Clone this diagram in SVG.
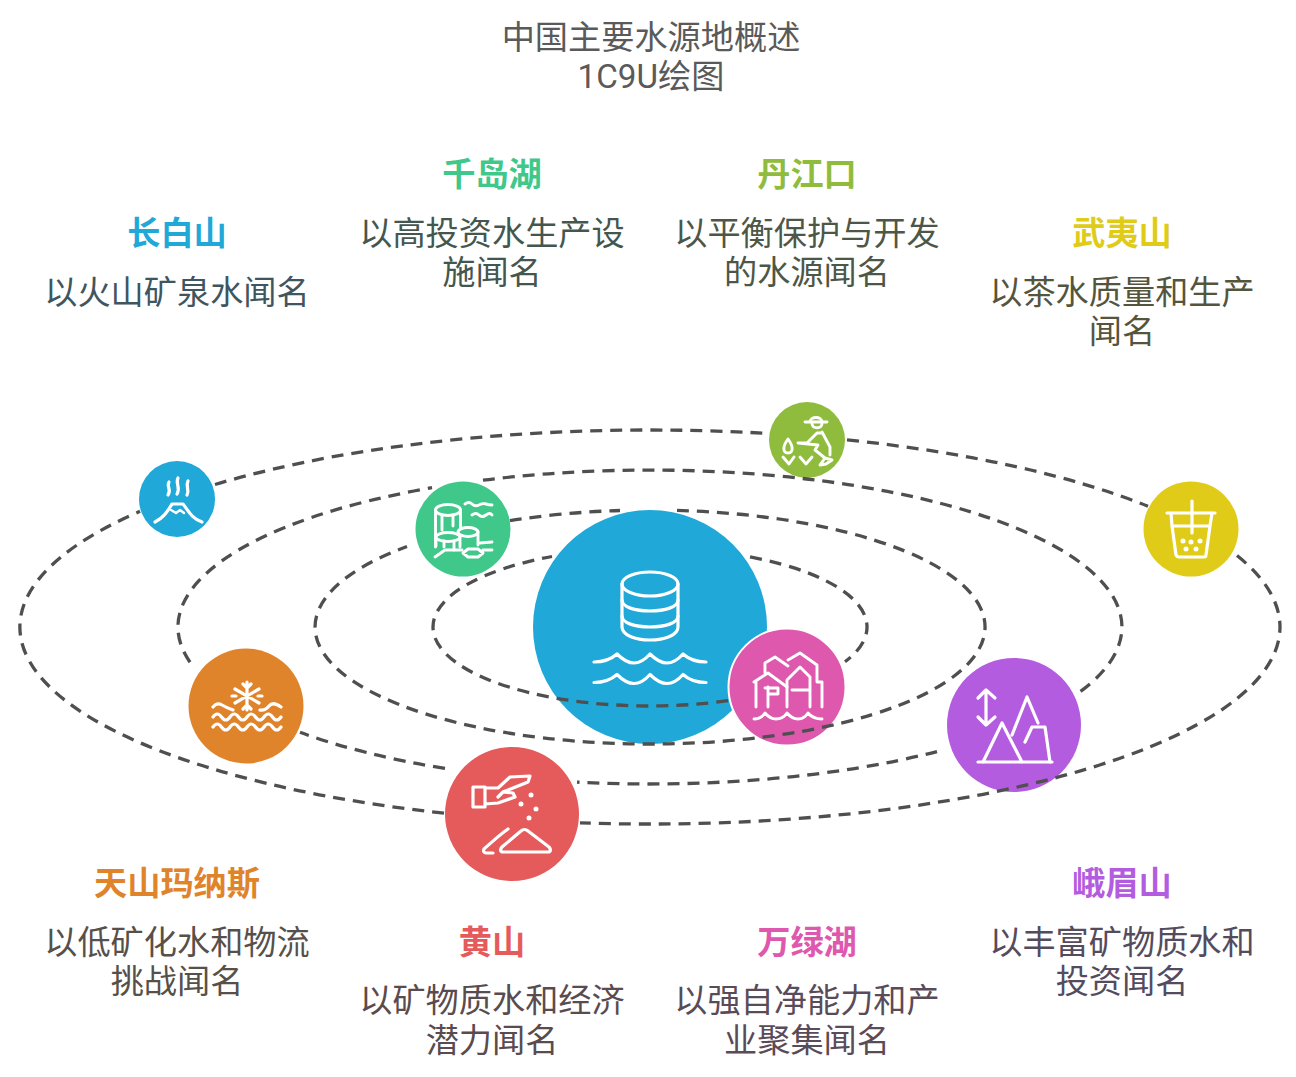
<svg xmlns="http://www.w3.org/2000/svg" width="1296" height="1077" viewBox="0 0 1296 1077">
<style>
text{font-family:"Roboto","Noto Sans CJK SC",sans-serif;font-size:33.2px;text-anchor:middle}
.h{font-weight:700}
.disc{stroke:#fff;stroke-width:2}
.ic{fill:none;stroke:#fff;stroke-width:3.2;stroke-linecap:round;stroke-linejoin:round}
.ict{fill:none;stroke:#fff;stroke-width:2.9;stroke-linecap:round;stroke-linejoin:round}
.dot{fill:#fff}
.orbit{fill:none;stroke:#4f4f4f;stroke-width:3.3;stroke-dasharray:12 8}
</style>
<rect width="1296" height="1077" fill="#fff"/>
<g id="title" fill="#5a5a5a"><text x="651" y="49">中国主要水源地概述</text><text x="651" y="88">1C9U绘图</text></g>

<g id="center"><circle cx="650" cy="627" r="117" fill="#1fa8d8"/>
<g class="ic"><ellipse cx="650" cy="584" rx="28" ry="12"/><path d="M622 584V627C622 635 635 640 650 640S678 635 678 627V584"/><path d="M622 600C622 607 635 611 650 611S678 607 678 600"/><path d="M622 616C622 623 635 627 650 627S678 623 678 616"/>
<path d="M594 662Q608 662 617 654Q626 663 634 663Q642 663 650 654Q659 663 667 663Q675 663 683 654Q692 662 706 662"/>
<path d="M594 682.500Q608 682.500 617 674.500Q626 683.500 634 683.500Q642 683.500 650 674.500Q659 683.500 667 683.500Q675 683.500 683 674.500Q692 682.500 706 682.500"/></g></g>

<g id="wanlvhu"><circle cx="787" cy="687" r="58.500" fill="#de58ae" class="disc"/>
<g class="ict"><path d="M754 682L768 673L787 687M756 682V707M768 687V707M765 688H778V694H768"/><path d="M765 673V663L775 657L788 666"/><path d="M788 660L800 653L817 665V682H822V707"/><path d="M787 707V680L800 667L810 677V707M792 690H810"/><path d="M754 719Q761 719 765 713Q770 719 776 719Q783 719 787 713Q792 719 798 719Q804 719 808 713Q813 719 822 719"/></g></g>

<g id="changbaishan"><circle cx="177" cy="499" r="38" fill="#1fa8d8"/>
<g class="ic"><path d="M169 482C166 487 172 489 168 495M178 478C175 484 181 487 177 494M188 481C185 487 190 489 187 495"/><path d="M155 522C165 517 168 510 172 504H183C188 510 191 518 202 522"/><path d="M171 510L176 513L180 510L184 513" stroke-width="2.500"/></g></g>

<g id="qiandaohu"><circle cx="463" cy="529" r="47.500" fill="#3fc88a"/>
<g class="ict"><ellipse cx="448" cy="510" rx="12.500" ry="5.500"/><path d="M435.500 510V547M460.500 510V528M442 515V530M453 515V526"/><ellipse cx="448" cy="537" rx="12" ry="4.500"/><ellipse cx="468" cy="532" rx="10" ry="4.500"/><path d="M436 540V546M444 541V547M454 541V550M460 537V547M478 532V545"/><path d="M435 557L445 550H462"/><path d="M463 553L468 549H478L483 553L478 557H468ZM483 550H492M480 543L492 542"/><path d="M465 504Q469 501 472 504T479 505T486 504T492 505M472 515Q476 512 479 515T486 515T492 515"/></g></g>

<g id="danjiangkou"><circle cx="807" cy="440" r="38" fill="#8fbc3c"/>
<g class="ict"><path d="M805 422H827M810 422C810 416 822 416 822 422M812 424C813 429 821 429 822 424"/><path d="M822 432L830 447V455M798 443H807L817 433H822M798 443L818 445L815 450L825 458M820 465L825 458L832 460L826 464Z"/><path d="M788 439C782 447 783 453 788 453S794 447 788 439ZM783 457L789 464L794 457M800 457L806 464L812 457"/></g></g>

<g id="wuyishan"><circle cx="1191" cy="529" r="47.500" fill="#e0cc18"/>
<g class="ic"><path d="M1167 513H1215M1171 513L1172 526H1210L1212 513M1172 526L1176 555Q1177 557 1179 557H1204Q1206 557 1206 555L1210 526M1192 501V533"/></g>
<g class="dot"><circle cx="1183" cy="541" r="2.500"/><circle cx="1191" cy="542" r="2.500"/><circle cx="1200" cy="541" r="2.500"/><circle cx="1186" cy="549" r="2.500"/><circle cx="1196" cy="549" r="2.500"/></g></g>

<g id="tianshan"><circle cx="246" cy="706" r="57.500" fill="#e0842c"/>
<g class="ic"><path d="M247 682V710M235 689L259 703M259 689L235 703M243 684L247 688L251 684M243 709L247 705L251 709M232 696H236M262 696H258"/>
<path d="M213 707Q217 702 222 705T233 710M260 710Q265 711 269 706T281 707"/>
<path d="M213 717q4.250-6 8.500 0t8.500 0t8.500 0t8.500 0t8.500 0t8.500 0t8.500 0t8.500 0"/>
<path d="M213 727q4.250-6 8.500 0t8.500 0t8.500 0t8.500 0t8.500 0t8.500 0t8.500 0t8.500 0"/></g></g>

<g id="huangshan"><circle cx="512" cy="814" r="67" fill="#e55a5a"/>
<g class="ic"><path d="M473 787H485V807H473ZM485 788H498L510 777L530 776L528 782L503 792L513 793L515 797L498 803L485 804M498 797L503 792"/>
<path d="M503 852C500 852 500 849 502 847L521 831C523 829 526 829 528 831L549 847C551 849 551 852 548 852Z"/><path d="M508 829C498 836 491 843 484 849C483 851 484 853 486 853H493"/></g>
<g class="dot"><circle cx="531" cy="795" r="2.500"/><circle cx="521" cy="804" r="2.500"/><circle cx="536" cy="809" r="2.500"/><circle cx="529" cy="818" r="2.500"/></g></g>

<g id="emeishan"><circle cx="1014" cy="725" r="67" fill="#b45ce0"/>
<g class="ic"><path d="M986 690V725M978 698L986 690L995 698M978 717L986 725L995 717"/><path d="M978 762H1052M983 762L1002 723L1022 762"/><path d="M1012 735L1027 697L1038 723M1025 742L1032 727H1045L1050 762"/></g></g>

<g id="connectors" class="orbit">
<path d="M750 556.900A217 79 0 0 1 845 661.700"/>
<path d="M728 700.700A217 79 0 0 1 433 627A217 79 0 0 1 552 556.500"/>
<path d="M677 510.400A335 117 0 1 1 407 546.500"/>
<path d="M510 520.700A335 117 0 0 1 620 510.500"/>
<path d="M483 480.200A472 157 0 0 1 1078 693.200"/>
<path d="M937 751.600A472 157 0 0 1 577 782.100"/>
<path d="M445 768.400A472 157 0 0 1 300 732.300"/>
<path d="M190 662.200A472 157 0 0 1 432 487.700"/>
<path d="M847 439.900A630 197 0 0 1 1148 506.300"/>
<path d="M1237 555.500A630 197 0 0 1 580 822.800"/>
<path d="M444 813.200A630 197 0 0 1 140 511.300"/>
<path d="M215 484.500A630 197 0 0 1 770 433.600"/>
</g>

<g id="label-changbaishan"><text class="h" x="177" y="245" fill="#1fa8d8">长白山</text><text x="177" y="304" fill="#3f5660">以火山矿泉水闻名</text></g>
<g id="label-qiandaohu"><text class="h" x="492" y="186" fill="#3fc88a">千岛湖</text><g fill="#44574f"><text x="492" y="245">以高投资水生产设</text><text x="492" y="284">施闻名</text></g></g>
<g id="label-danjiangkou"><text class="h" x="807" y="186" fill="#8fbc3c">丹江口</text><g fill="#4d5748"><text x="807" y="245">以平衡保护与开发</text><text x="807" y="284">的水源闻名</text></g></g>
<g id="label-wuyishan"><text class="h" x="1122" y="245" fill="#e0cc18">武夷山</text><g fill="#55553e"><text x="1122" y="304">以茶水质量和生产</text><text x="1122" y="343">闻名</text></g></g>
<g id="label-tianshan"><text class="h" x="177" y="895" fill="#e0842c">天山玛纳斯</text><g fill="#57504a"><text x="177" y="954">以低矿化水和物流</text><text x="177" y="993">挑战闻名</text></g></g>
<g id="label-huangshan"><text class="h" x="492" y="954" fill="#e55a5a">黄山</text><g fill="#5a4b4e"><text x="492" y="1012">以矿物质水和经济</text><text x="492" y="1052">潜力闻名</text></g></g>
<g id="label-wanlvhu"><text class="h" x="807" y="954" fill="#de58ae">万绿湖</text><g fill="#5a4b58"><text x="807" y="1012">以强自净能力和产</text><text x="807" y="1052">业聚集闻名</text></g></g>
<g id="label-emeishan"><text class="h" x="1122" y="895" fill="#b45ce0">峨眉山</text><g fill="#544c5e"><text x="1122" y="954">以丰富矿物质水和</text><text x="1122" y="993">投资闻名</text></g></g>
</svg>
